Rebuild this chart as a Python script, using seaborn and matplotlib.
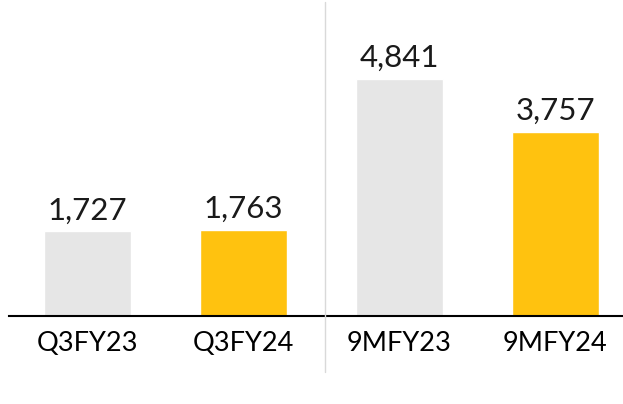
import matplotlib
matplotlib.use("Agg")
import matplotlib.pyplot as plt
import seaborn as sns
import pandas as pd
from matplotlib.lines import Line2D

categories = ["Q3FY23", "Q3FY24", "9MFY23", "9MFY24"]
values = [1727, 1763, 4841, 3757]
colors = ["#E6E6E6", "#FFC20F", "#E6E6E6", "#FFC20F"]

sns.set_style("white")
plt.rcParams['font.family'] = ['Lato', 'DejaVu Sans']

df = pd.DataFrame({"cat": categories, "val": values})

fig = plt.figure(figsize=(6.23, 4.04), dpi=100)
ax = fig.add_axes([9/623, (404-316)/404, (623-9)/623, 316/404])
sns.barplot(data=df, x="cat", y="val", hue="cat", palette=colors, order=categories,
            hue_order=categories, width=0.558, legend=False, ax=ax, saturation=1)

ax.set_xlim(-0.503, 3.433)
ax.set_ylim(0, 6454)
ax.set_xlabel("")
ax.set_ylabel("")
ax.set_yticks([])
for s in ["top", "right", "left"]:
    ax.spines[s].set_visible(False)
ax.spines["bottom"].set_color("black")
ax.spines["bottom"].set_linewidth(1.5)
ax.tick_params(axis="x", length=0, pad=11, labelsize=19.5, colors="black")

for i, v in enumerate(values):
    ax.text(i, v + 140, f"{v:,}", ha="center", va="bottom", fontsize=22.5, color="#1a1a1a")

fig.add_artist(Line2D([325/623, 325/623], [1 - 2/404, 1 - 372/404],
                      transform=fig.transFigure, color="#D9D9D9", linewidth=1))

fig.savefig("out.png", dpi=100)
